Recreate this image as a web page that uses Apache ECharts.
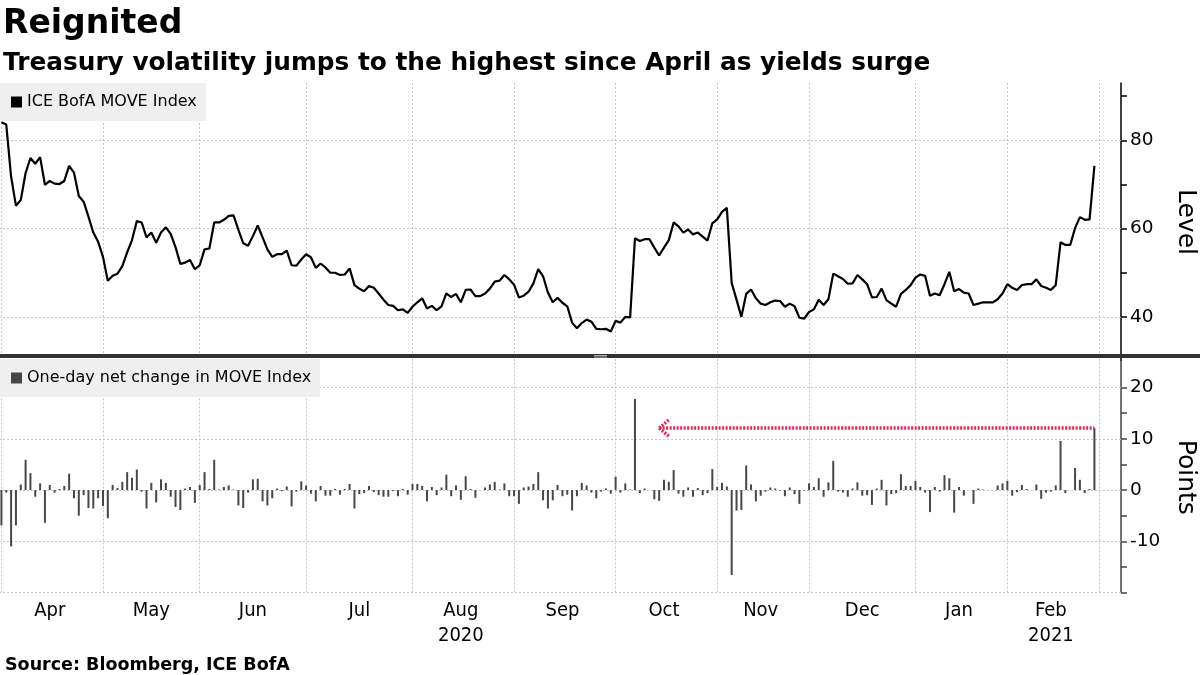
<!DOCTYPE html>
<html><head><meta charset="utf-8">
<script src="https://cdn.jsdelivr.net/npm/echarts@6/dist/echarts.min.js"></script>
<style>html,body{margin:0;padding:0;background:#fff}#c{width:1200px;height:675px}</style>
</head><body><div id="c"></div>
<script>
// ---- calendar (trading days) ----
const startDate = '2020-04-01';
const endDate = '2021-03-05';
const holidays = ['2020-04-10','2020-05-25','2020-07-03','2020-09-07','2020-10-12','2020-11-11',
  '2020-11-26','2020-12-25','2021-01-01','2021-01-18','2021-02-15'];
const monthNames = ['Jan','Feb','Mar','Apr','May','Jun','Jul','Aug','Sep','Oct','Nov','Dec'];
const yearLabels = {'2020-08': '2020', '2021-02': '2021'};

// ---- series values ----
const levels = [
 84.1,83.6,71.8,65.2,66.5,72.6,76.0,74.7,76.2,69.9,
 70.8,70.2,70.1,70.8,74.2,72.7,67.4,66.1,62.7,59.1,
 57.0,53.6,48.2,49.3,49.8,51.5,54.6,57.4,61.7,61.4,
 58.0,59.1,56.8,59.1,60.3,58.8,55.8,52.0,52.3,52.9,
 50.8,51.7,55.3,55.5,61.4,61.4,62.0,62.9,63.0,59.7,
 56.7,56.1,58.3,60.7,58.0,55.3,53.6,54.2,54.2,55.0,
 51.7,51.6,53.0,54.2,53.5,51.1,52.1,51.2,50.0,50.0,
 49.5,49.6,51.0,47.2,46.4,45.8,47.0,46.6,45.3,43.9,
 42.7,42.5,41.5,41.7,40.9,42.3,43.3,44.2,41.9,42.5,
 41.5,42.4,45.3,44.5,45.2,43.3,46.1,46.2,44.7,44.7,
 45.3,46.4,48.0,48.2,49.5,48.5,47.3,44.4,44.8,45.7,
 47.6,50.8,49.2,45.5,43.3,44.3,43.2,42.4,38.7,37.4,
 38.6,39.4,38.9,37.3,37.2,37.3,36.7,39.1,38.7,40.0,
 39.9,57.8,57.2,57.6,57.6,55.7,53.9,55.7,57.4,61.4,
 60.5,59.1,59.8,58.7,59.1,58.2,57.3,61.2,62.1,63.8,
 64.7,47.7,43.9,40.0,45.2,46.2,44.2,43.0,42.7,43.3,
 43.7,43.6,42.3,43.0,42.4,39.8,39.6,41.1,41.7,43.9,
 42.7,44.0,49.8,49.2,48.6,47.5,47.6,49.5,48.5,47.4,
 44.4,44.5,46.4,43.8,43.0,42.3,45.2,46.1,47.2,48.9,
 49.6,49.3,44.8,45.3,44.9,47.4,50.2,45.8,46.3,45.5,
 45.3,42.7,43.0,43.3,43.3,43.3,44.0,45.3,47.4,46.6,
 46.1,47.2,47.4,47.4,48.5,47.0,46.6,46.1,47.2,56.9,
 56.3,56.3,60.1,62.6,62.0,62.1,74.2
];
const changes = [
 -6.9,-0.5,-11.0,-6.9,1.1,5.9,3.3,-1.3,1.3,-6.4,
 1.0,-0.5,0.2,0.8,3.2,-1.6,-5.0,-1.0,-3.5,-3.6,
 -1.6,-3.1,-5.5,1.0,0.4,1.6,3.5,2.4,4.0,-0.3,
 -3.6,1.4,-2.4,2.1,1.4,-1.3,-3.3,-3.9,0.3,0.6,
 -2.5,1.0,3.5,0.2,5.9,0.1,0.6,0.9,0.1,-3.0,
 -3.5,-0.5,2.1,2.2,-2.2,-3.0,-1.6,0.3,-0.2,0.7,
 -3.2,-0.3,1.7,0.9,-0.7,-2.2,0.8,-1.1,-1.1,0.2,
 -0.9,0.2,1.2,-3.6,-0.8,-0.6,0.8,-0.4,-1.0,-1.3,
 -1.3,-0.2,-1.2,0.2,-0.9,1.2,1.2,0.8,-2.2,0.6,
 -1.0,0.5,3.0,-1.2,0.9,-1.9,2.7,0.2,-1.5,0.0,
 0.5,1.1,1.6,0.1,1.3,-1.2,-1.2,-2.7,0.5,0.7,
 1.2,3.5,-2.0,-3.6,-2.0,1.0,-1.2,-0.9,-4.0,-1.2,
 1.4,0.9,-0.5,-1.6,-0.3,0.3,-0.7,2.6,-0.5,1.3,
 0.1,17.8,-0.6,0.3,0.0,-1.8,-2.1,2.0,1.6,3.9,
 -0.7,-1.3,0.5,-1.3,0.4,-1.0,-0.6,4.1,0.6,1.4,
 0.7,-16.6,-4.0,-3.9,4.8,1.1,-2.2,-1.1,-0.3,0.5,
 0.3,-0.1,-1.2,0.5,-0.8,-2.7,-0.1,1.3,0.6,2.3,
 -1.3,1.5,5.7,-0.3,-0.5,-1.3,0.3,1.5,-1.1,-1.0,
 -2.9,0.3,2.0,-3.0,-0.8,-0.6,3.1,0.8,0.8,1.8,
 0.6,-0.5,-4.3,0.6,-0.3,2.9,2.3,-4.4,0.6,-1.1,
 0.0,-2.7,0.3,0.1,0.0,0.0,0.9,1.3,1.8,-1.1,
 -0.4,1.0,0.2,0.0,1.1,-1.7,-0.5,-0.3,0.9,9.6,
 -0.6,0.0,4.3,2.0,-0.6,0.2,12.1
];

// ---- tick labels ----
const levelLabels = [40, 60, 80];
const levelTickValues = [40, 50, 60, 70, 80, 90];
const changeLabels = [20, 10, 0, -10];
const changeTickValues = [-20, -15, -10, -5, 0, 5, 10, 15, 20];
const changeGridValues = [20, 10, 0, -10, -20];
const arrowFromIndex = 136;

function tradingDays(s, e, hol) {
  const out = [];
  const d = new Date(s + 'T00:00:00Z');
  const end = new Date(e + 'T00:00:00Z');
  while (d <= end) {
    const iso = d.toISOString().slice(0, 10);
    const wd = d.getUTCDay();
    if (wd !== 0 && wd !== 6 && !hol.includes(iso)) out.push(iso);
    d.setUTCDate(d.getUTCDate() + 1);
  }
  return out;
}
const categories = tradingDays(startDate, endDate, holidays);

// month starts (vertical grid lines)
const monthStarts = [];
categories.forEach((c, i) => { if (i === 0 || c.slice(0, 7) !== categories[i - 1].slice(0, 7)) monthStarts.push(i); });
// month label positions (middle of each month with data)
const monthGroups = {};
for (let i = 0; i < levels.length; i++) {
  const k = categories[i].slice(0, 7);
  (monthGroups[k] = monthGroups[k] || []).push(i);
}
const labelIdx = new Set(Object.values(monthGroups).map(a => Math.ceil((a[0] + a[a.length - 1]) / 2)));

const gridColor = '#c6c6c6';
const font = 'DejaVu Sans, Verdana, sans-serif';
const narrow = '"Liberation Sans Narrow", "DejaVu Sans Condensed", "Arial Narrow", "DejaVu Sans", sans-serif';

const chart = echarts.init(document.getElementById('c'), null, {renderer: 'canvas'});
const lastIdx = changes.length - 1;
const arrowVal = changes[lastIdx];

chart.setOption({
  animation: false,
  backgroundColor: '#fff',
  title: [
    {text: 'Reignited', left: -2, top: 3, textStyle: {fontFamily: font, fontWeight: 'bold', fontSize: 33, color: '#000'}},
    {text: 'Treasury volatility jumps to the highest since April as yields surge', left: -2, top: 46,
      textStyle: {fontFamily: font, fontWeight: 'bold', fontSize: 24.8, color: '#000'}},
    {text: 'Source: Bloomberg, ICE BofA', left: 0, top: 651, textStyle: {fontFamily: font, fontWeight: 'bold', fontSize: 17.5, color: '#000'}}
  ],
  legend: [
    {data: ['ICE BofA MOVE Index'], left: 0, top: 83, orient: 'horizontal', icon: 'rect', itemWidth: 11, itemHeight: 11,
      backgroundColor: '#efefef', padding: [11, 9, 11, 11], selectedMode: false,
      textStyle: {fontFamily: font, fontSize: 16, color: '#000'}},
    {data: ['One-day net change in MOVE Index'], left: 0, top: 359, icon: 'rect', itemWidth: 11, itemHeight: 11,
      backgroundColor: '#efefef', padding: [11, 9, 11, 11], selectedMode: false,
      textStyle: {fontFamily: font, fontSize: 16, color: '#000'}}
  ],
  grid: [
    {left: -1, right: 79, top: 83, height: 278, containLabel: false, outerBoundsMode: 'none'},
    {left: -1, right: 79, top: 362, height: 230.5, containLabel: false, outerBoundsMode: 'none'}
  ],
  xAxis: [
    {type: 'category', gridIndex: 0, data: categories, boundaryGap: true,
      axisLine: {show: false}, axisTick: {show: false}, axisLabel: {show: false}, splitLine: {show: false}},
    {type: 'category', gridIndex: 1, data: categories, boundaryGap: true,
      axisLine: {show: false}, axisTick: {show: false}, splitLine: {show: false},
      axisLabel: {show: true, interval: (i) => labelIdx.has(i), margin: 6, color: '#000',
        fontFamily: narrow, fontSize: 20, lineHeight: 25,
        formatter: (v) => { const k = v.slice(0, 7); const m = monthNames[parseInt(v.slice(5, 7), 10) - 1];
          return yearLabels[k] ? m + '\n' + yearLabels[k] : m; }}}
  ],
  yAxis: [
    {type: 'value', gridIndex: 0, position: 'right', min: 30, max: 93, interval: 10,
      name: 'Level', nameLocation: 'middle', nameRotate: -90, nameGap: 52,
      nameTextStyle: {fontFamily: font, fontSize: 25, color: '#000'},
      axisLine: {show: true, lineStyle: {color: '#000', width: 1.5}},
      axisTick: {show: true, length: 6, lineStyle: {color: '#000', width: 1.5}, customValues: levelTickValues},
      axisLabel: {color: '#000', fontFamily: font, fontSize: 18.5, margin: 9, customValues: levelLabels,
        formatter: (v) => levelLabels.includes(v) ? String(v) : ''},
      splitLine: {show: false}},
    {type: 'value', gridIndex: 1, position: 'right', min: -20, max: 25, interval: 5,
      name: 'Points', nameLocation: 'middle', nameRotate: -90, nameGap: 52,
      nameTextStyle: {fontFamily: font, fontSize: 25, color: '#000'},
      axisLine: {show: true, lineStyle: {color: '#444', width: 1.5}},
      axisTick: {show: true, length: 6, lineStyle: {color: '#444', width: 1.5}, customValues: changeTickValues},
      axisLabel: {color: '#000', fontFamily: font, fontSize: 18.5, margin: 9, customValues: changeLabels,
        formatter: (v) => changeLabels.includes(v) ? String(v) : ''},
      splitLine: {show: false}}
  ],
  series: [
    {type: 'line', xAxisIndex: 0, yAxisIndex: 0, data: [], silent: true, z: 1,
      markLine: {silent: true, z: 1, symbol: ['none', 'none'], label: {show: false}, animation: false,
        lineStyle: {type: [2, 2], color: gridColor, width: 1},
        data: monthStarts.map(i => ({xAxis: categories[i]})).concat(levelLabels.map(v => ({yAxis: v})))}},
    {type: 'line', xAxisIndex: 1, yAxisIndex: 1, data: [], silent: true, z: 1,
      markLine: {silent: true, z: 1, symbol: ['none', 'none'], label: {show: false}, animation: false,
        lineStyle: {type: [2, 2], color: gridColor, width: 1},
        data: monthStarts.map(i => ({xAxis: categories[i]})).concat(changeGridValues.map(v => ({yAxis: v})))}},
    {name: 'ICE BofA MOVE Index', type: 'line', xAxisIndex: 0, yAxisIndex: 0, data: levels, z: 3,
      symbol: 'none', lineStyle: {color: '#000', width: 2.2}, itemStyle: {color: '#000'}},
    {name: 'One-day net change in MOVE Index', type: 'bar', xAxisIndex: 1, yAxisIndex: 1, data: changes, z: 3,
      barWidth: 2, itemStyle: {color: '#474747'},
      markLine: {silent: true, z: 6, symbol: ['none', 'none'], label: {show: false}, animation: false,
        lineStyle: {type: [2, 1.5], color: '#dc2a58', width: 3.5},
        data: [
          [{coord: [categories[arrowFromIndex], arrowVal]}, {coord: [categories[lastIdx], arrowVal]}],
          [{coord: [categories[arrowFromIndex], arrowVal]}, {coord: [categories[arrowFromIndex + 2], arrowVal + 1.6]}],
          [{coord: [categories[arrowFromIndex], arrowVal]}, {coord: [categories[arrowFromIndex + 2], arrowVal - 1.6]}]
        ]}}
  ],
  graphic: [
    {type: 'rect', shape: {x: 0, y: 354, width: 1200, height: 4}, style: {fill: '#333'}, z: 100},
    {type: 'line', shape: {x1: 594, y1: 355.5, x2: 607, y2: 355.5}, style: {stroke: '#aaa', lineWidth: 1}, z: 101},
    {type: 'line', shape: {x1: 594, y1: 357, x2: 607, y2: 357}, style: {stroke: '#aaa', lineWidth: 1}, z: 101}
  ]
});
</script></body></html>
